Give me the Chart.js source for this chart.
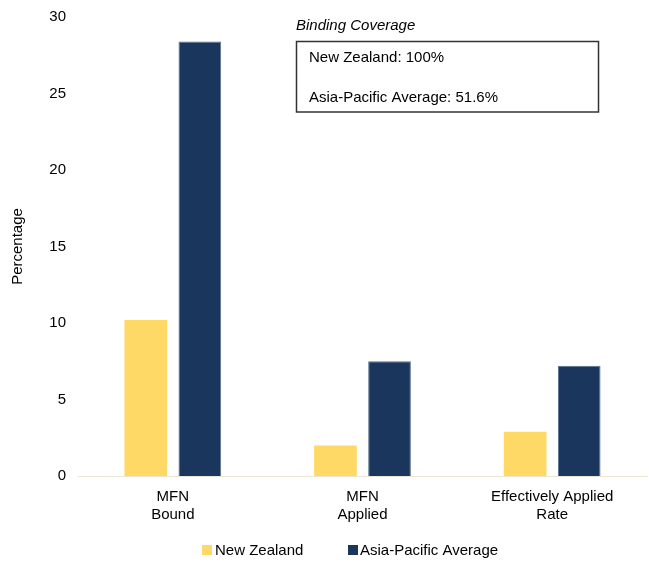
<!DOCTYPE html>
<html>
<head>
<meta charset="utf-8">
<script src="https://cdn.jsdelivr.net/npm/chart.js@4"></script>
<style>
html,body{margin:0;padding:0;background:#fff;}
#wrap{position:relative;width:649px;height:562px;}
</style>
</head>
<body>
<div id="wrap"><canvas id="c" width="649" height="562"></canvas></div>
<script>
const categories = [["MFN","Bound"],["MFN","Applied"],["Effectively Applied","Rate"]];
const seriesNames = ["New Zealand", "Asia-Pacific Average"];
const newZealand = [10.2, 2.0, 2.9];
const asiaPacific = [28.4, 7.5, 7.2];
const yTicks = [0, 5, 10, 15, 20, 25, 30];
const boxTitle = "Binding Coverage";
const boxLines = ["New Zealand: 100%", "Asia-Pacific Average: 51.6%"];

const FONT = "'Liberation Sans', Arial, sans-serif";

const boxPlugin = {
  id: 'boxPlugin',
  afterDraw(chart) {
    const ctx = chart.ctx;
    ctx.save();
    ctx.fillStyle = '#000';
    ctx.font = 'italic 15px ' + FONT;
    ctx.textBaseline = 'middle';
    ctx.textAlign = 'left';
    ctx.fillText(boxTitle, 296, 26);
    ctx.strokeStyle = '#333';
    ctx.lineWidth = 1.5;
    ctx.strokeRect(296.5, 41.5, 302, 70.5);
    ctx.font = '15px ' + FONT;
    ctx.fillText(boxLines[0], 309, 57.5);
    ctx.fillText(boxLines[1], 309, 97.5);
    // legend
    const ds = chart.data.datasets;
    const items = [{ bx: 202, tx: 215 }, { bx: 348, tx: 360 }];
    items.forEach((it, i) => {
      ctx.fillStyle = ds[i].backgroundColor;
      ctx.fillRect(it.bx, 545, 10, 10);
      ctx.fillStyle = '#000';
      ctx.fillText(ds[i].label, it.tx, 550.5);
    });
    ctx.restore();
  }
};

new Chart(document.getElementById('c'), {
  type: 'bar',
  data: {
    labels: categories,
    datasets: [
      { label: seriesNames[0], data: newZealand, backgroundColor: '#FFD966', borderWidth: 0,
        barPercentage: 0.79, categoryPercentage: 0.57 },
      { label: seriesNames[1], data: asiaPacific, backgroundColor: '#1A365C', borderColor: '#5a7090', borderWidth: 1,
        barPercentage: 0.79, categoryPercentage: 0.57 }
    ]
  },
  options: {
    responsive: false,
    animation: false,
    devicePixelRatio: 1,
    layout: { padding: { top: 17, right: 2, left: 0, bottom: 0 } },
    plugins: {
      legend: { display: false },
      tooltip: { enabled: false }
    },
    scales: {
      x: {
        grid: { display: false, drawTicks: false },
        border: { color: '#ece6d6', width: 1 },
        ticks: { color: '#000', font: { family: FONT, size: 15 }, padding: 12, maxRotation: 0 },
        afterFit(s) { s.height = 86; }
      },
      y: {
        min: 0, max: 30,
        grid: { display: false, drawTicks: false },
        border: { display: false },
        afterBuildTicks(s) { s.ticks = yTicks.map(v => ({ value: v })); },
        ticks: { color: '#000', font: { family: FONT, size: 15 }, padding: 12 },
        title: { display: true, text: 'Percentage', color: '#000', font: { family: FONT, size: 15 }, padding: { top: 9, bottom: 0 } },
        afterFit(s) { s.width = 78; s.paddingTop = 0; s.paddingBottom = 0; }
      }
    }
  },
  plugins: [boxPlugin]
});
</script>
</body>
</html>
